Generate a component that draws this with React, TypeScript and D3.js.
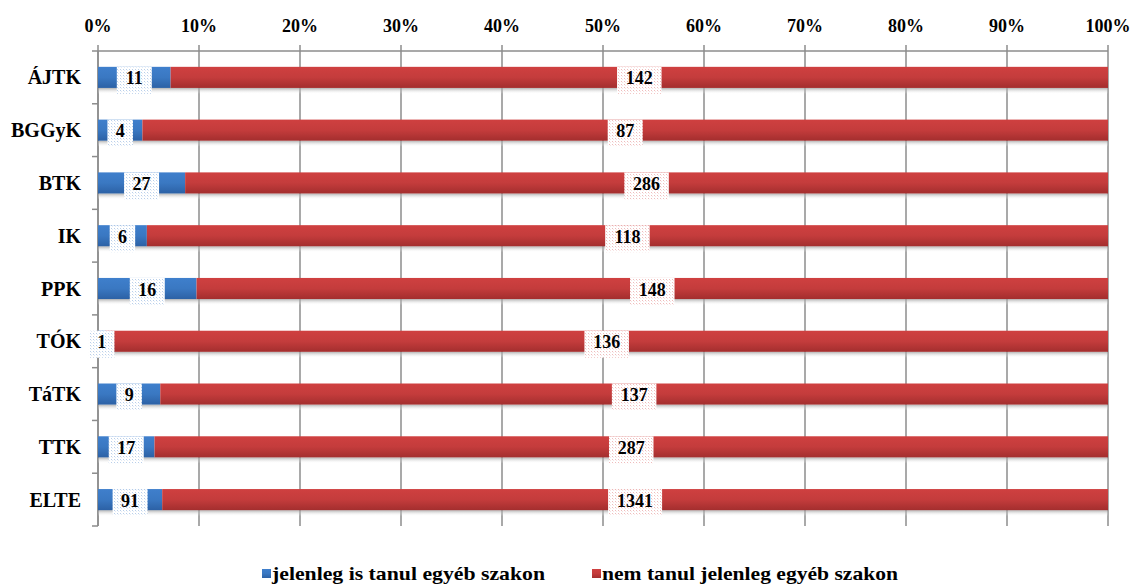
import React from "react";
import * as d3 from "d3";

const categories = ["ÁJTK", "BGGyK", "BTK", "IK", "PPK", "TÓK", "TáTK", "TTK", "ELTE"];
const studyingOther = [11, 4, 27, 6, 16, 1, 9, 17, 91];
const notStudyingOther = [142, 87, 286, 118, 148, 136, 137, 287, 1341];
const seriesNames = ["jelenleg is tanul egyéb szakon", "nem tanul jelenleg egyéb szakon"];
const tickValues = [0, 0.1, 0.2, 0.3, 0.4, 0.5, 0.6, 0.7, 0.8, 0.9, 1];

const W = 1131;
const H = 585;
const X0 = 98;
const X1 = 1108;
const Y0 = 51;
const Y1 = 526;
const FONT = "Liberation Serif, DejaVu Serif, Times New Roman, serif";

export default function App() {
  const x = d3.scaleLinear().domain([0, 1]).range([X0, X1]);
  const y = d3.scaleBand<string>().domain(categories).range([Y0, Y1]).paddingInner(0.6).paddingOuter(0.3);
  const bw = y.bandwidth();
  const fmt = d3.format(".0%");

  const rows = categories.map((c, i) => {
    const a = studyingOther[i];
    const b = notStudyingOther[i];
    const t = a + b;
    return { c, a, b, pa: a / t };
  });

  const txtStyle = { fontFamily: FONT, fontWeight: 700 as const };

  const label = (cx: number, yTop: number, txt: string, pat: string, key: string) => {
    const w = txt.length * 9.5 + 16;
    const h = 27;
    return (
      <g key={key}>
        <rect x={cx - w / 2} y={yTop} width={w} height={h} fill={`url(#${pat})`} />
        <text x={cx} y={yTop + bw / 2 + 1} textAnchor="middle" dominantBaseline="central"
          style={txtStyle} fontSize={18} fill="#000">{txt}</text>
      </g>
    );
  };

  const boundaries = d3.range(categories.length + 1).map((k) => Y0 + k * (Y1 - Y0) / categories.length);

  return (
    <svg width={W} height={H} style={{ position: "absolute", left: 0, top: 0 }}>
      <defs>
        <linearGradient id="gBlue" x1="0" y1="0" x2="0" y2="1">
          <stop offset="0" stopColor="#3f7fcc" />
          <stop offset="0.5" stopColor="#3a78c2" />
          <stop offset="1" stopColor="#2c61a5" />
        </linearGradient>
        <linearGradient id="gRed" x1="0" y1="0" x2="0" y2="1">
          <stop offset="0" stopColor="#cf4040" />
          <stop offset="0.5" stopColor="#c43c3c" />
          <stop offset="1" stopColor="#a32e2e" />
        </linearGradient>
        <linearGradient id="gShadow" x1="0" y1="0" x2="0" y2="1">
          <stop offset="0" stopColor="#999" stopOpacity="0.75" />
          <stop offset="1" stopColor="#fff" stopOpacity="0" />
        </linearGradient>
        <pattern id="pBlue" width="3" height="3" patternUnits="userSpaceOnUse">
          <rect width="3" height="3" fill="#fff" />
          <rect width="1" height="1" fill="#b9cfea" />
          <rect x="1" y="1" width="1" height="1" fill="#e3ecf7" />
        </pattern>
        <pattern id="pRed" width="3" height="3" patternUnits="userSpaceOnUse">
          <rect width="3" height="3" fill="#fff" />
          <rect width="1" height="1" fill="#efbcbc" />
          <rect x="1" y="1" width="1" height="1" fill="#f8e4e4" />
        </pattern>
      </defs>
      <rect width={W} height={H} fill="#fff" />

      {tickValues.map((t) => (
        <line key={"g" + t} x1={x(t)} x2={x(t)} y1={Y0 - 6} y2={Y1} stroke="#8c8c8c" strokeWidth={1.5} />
      ))}
      <line x1={X0} x2={X1} y1={Y0} y2={Y0} stroke="#8c8c8c" strokeWidth={1.5} />
      {tickValues.map((t) => (
        <text key={"t" + t} x={x(t)} y={32} textAnchor="middle" style={txtStyle} fontSize={18} fill="#000">
          {fmt(t)}
        </text>
      ))}
      <line x1={X0} x2={X0} y1={Y0} y2={Y1} stroke="#8c8c8c" strokeWidth={1.5} />
      {boundaries.map((b, k) => (
        <line key={"lt" + k} x1={X0 - 6} x2={X0} y1={b} y2={b} stroke="#8c8c8c" strokeWidth={1.5} />
      ))}

      {rows.map((r) => {
        const yt = y(r.c)!;
        return (
          <g key={r.c}>
            <rect x={x(0)} y={yt + bw} width={x(1) - x(0)} height={6} fill="url(#gShadow)" />
            <rect x={x(0)} y={yt} width={x(r.pa) - x(0)} height={bw} fill="url(#gBlue)" />
            <rect x={x(r.pa)} y={yt} width={x(1) - x(r.pa)} height={bw} fill="url(#gRed)" />
          </g>
        );
      })}
      {rows.map((r) => {
        const yt = y(r.c)!;
        return (
          <g key={"l" + r.c}>
            {label((x(0) + x(r.pa)) / 2, yt, String(r.a), "pBlue", "a")}
            {label((x(r.pa) + x(1)) / 2, yt, String(r.b), "pRed", "b")}
          </g>
        );
      })}
      {rows.map((r) => (
        <text key={"c" + r.c} x={81} y={y(r.c)! + bw / 2} textAnchor="end" dominantBaseline="central"
          style={txtStyle} fontSize={20} fill="#000">{r.c}</text>
      ))}

      <rect x={262} y={569} width={9} height={9} fill="url(#gBlue)" />
      <text x={272} y={580} style={txtStyle} fontSize={19} fill="#000" textLength={273} lengthAdjust="spacingAndGlyphs">{seriesNames[0]}</text>
      <rect x={592} y={569} width={9} height={9} fill="url(#gRed)" />
      <text x={602} y={580} style={txtStyle} fontSize={19} fill="#000" textLength={296} lengthAdjust="spacingAndGlyphs">{seriesNames[1]}</text>
    </svg>
  );
}
